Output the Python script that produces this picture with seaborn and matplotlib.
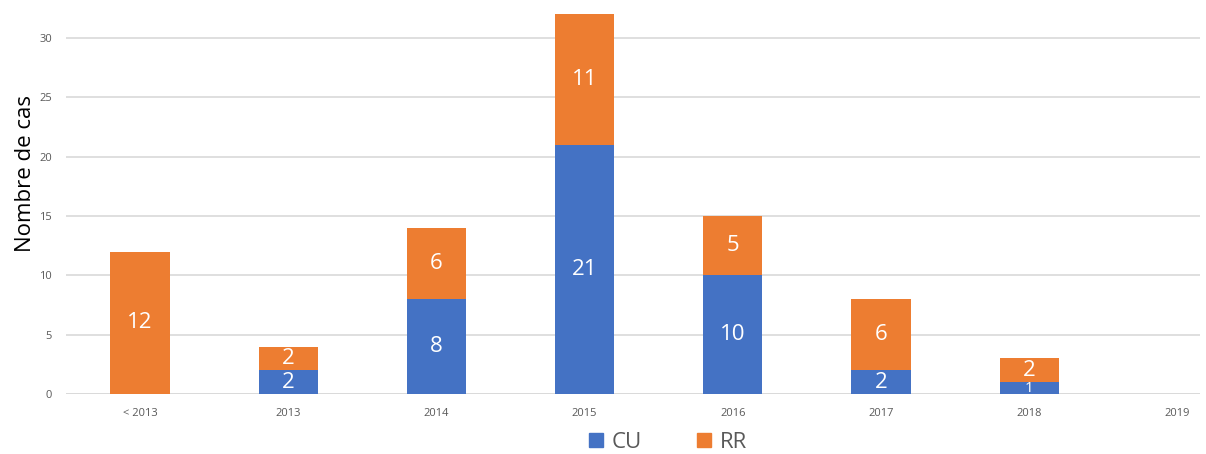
import matplotlib
matplotlib.use("Agg")
import matplotlib.pyplot as plt
import seaborn as sns
from matplotlib.patches import Patch

# data
categories = ["< 2013", "2013", "2014", "2015", "2016", "2017", "2018", "2019"]
cu_values = [0, 2, 8, 21, 10, 2, 1, 0]
rr_values = [12, 2, 6, 11, 5, 6, 2, 0]

BLUE = "#4472C4"
ORANGE = "#ED7D31"
GREY_TXT = "#595959"

sns.set_style("white")
plt.rcParams["font.family"] = ["Open Sans", "DejaVu Sans"]

totals = [c + r for c, r in zip(cu_values, rr_values)]

fig = plt.figure(figsize=(12.06, 4.54), dpi=100)
ax = fig.add_axes([0.0547, 0.132, 0.94, 0.837])

# stacked bars: total (orange) behind, CU (blue) in front
sns.barplot(x=categories, y=totals, color=ORANGE, width=0.4, saturation=1,
            ax=ax, zorder=2)
sns.barplot(x=categories, y=cu_values, color=BLUE, width=0.4, saturation=1,
            ax=ax, zorder=3)
for p in ax.patches:
    p.set_edgecolor("none")

for i, (c, r) in enumerate(zip(cu_values, rr_values)):
    if c > 0:
        fs = 16 if c > 1 else 11
        ax.text(i, c / 2, str(c), ha="center", va="center", color="white",
                fontsize=fs, fontweight="medium", zorder=4)
    if r > 0:
        ax.text(i, c + r / 2, str(r), ha="center", va="center", color="white",
                fontsize=16, fontweight="medium", zorder=4)

ax.set_ylim(0, 32)
ax.set_xlim(-0.5, 7.15)
ax.set_yticks(range(0, 31, 5))
ax.yaxis.grid(True, color="#D9D9D9", linewidth=1.2, zorder=0)
ax.set_axisbelow(True)
for side in ["top", "right", "left", "bottom"]:
    ax.spines[side].set_visible(False)
ax.axhline(0, color="#D9D9D9", linewidth=1.2, zorder=1)

ax.tick_params(axis="both", length=0, labelsize=8, labelcolor=GREY_TXT, pad=10)
ax.set_ylabel("Nombre de cas", fontsize=16, color="black")
ax.yaxis.set_label_coords(-0.026, 0.58)
ax.set_xlabel("")

handles = [Patch(color=BLUE, label="CU"), Patch(color=ORANGE, label="RR")]
fig.legend(handles=handles, loc="center", bbox_to_anchor=(0.554, 0.025),
           ncol=2, frameon=False, fontsize=16, labelcolor=GREY_TXT,
           handlelength=0.6, handleheight=0.6, columnspacing=2.5, handletextpad=0.4)

fig.savefig("out.png", dpi=100)
